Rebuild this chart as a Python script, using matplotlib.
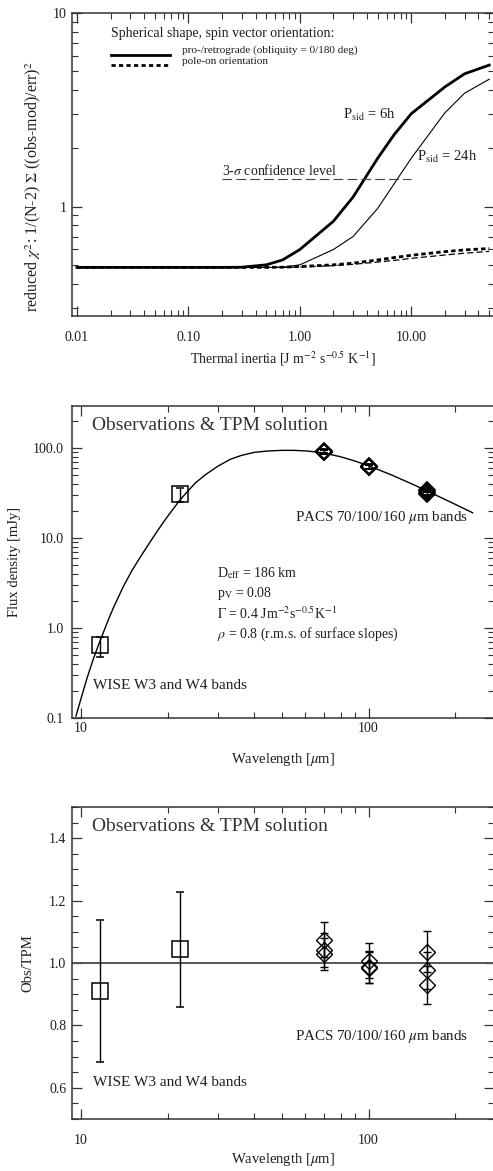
import matplotlib
matplotlib.use("Agg")
import matplotlib.pyplot as plt
from matplotlib.ticker import FixedLocator, FixedFormatter, LogLocator, MultipleLocator, NullFormatter

plt.rcParams['font.family'] = ['Liberation Serif', 'DejaVu Serif']
plt.rcParams['mathtext.fontset'] = 'stix'
plt.rcParams['lines.scale_dashes'] = False

INK = '#1e1e1e'

# ---- reduced chi^2 versus thermal inertia ----
inertia = [0.01, 0.02, 0.03, 0.05, 0.07, 0.1, 0.2, 0.3, 0.5, 0.7,
           1.0, 2.0, 3.0, 5.0, 7.0, 10.0, 20.0, 30.0, 50.0]
chi2_prograde_6h = [0.485, 0.485, 0.485, 0.485, 0.485, 0.485, 0.485, 0.486, 0.50, 0.53,
                    0.60, 0.84, 1.12, 1.78, 2.35, 3.02, 4.15, 4.85, 5.38]
chi2_prograde_24h = [0.485, 0.485, 0.485, 0.485, 0.485, 0.485, 0.485, 0.485, 0.485, 0.486,
                     0.50, 0.60, 0.70, 0.98, 1.31, 1.78, 3.05, 3.85, 4.55]
chi2_poleon_6h = [0.485, 0.485, 0.485, 0.485, 0.485, 0.485, 0.485, 0.485, 0.485, 0.486,
                  0.49, 0.50, 0.51, 0.53, 0.545, 0.56, 0.585, 0.597, 0.607]
chi2_poleon_24h = [0.485, 0.485, 0.485, 0.485, 0.485, 0.485, 0.485, 0.485, 0.485, 0.485,
                   0.487, 0.495, 0.503, 0.517, 0.527, 0.54, 0.562, 0.574, 0.587]
confidence_3sigma = 1.38
confidence_range = [0.2, 10.0]

# ---- TPM spectral energy distribution ----
sed_wavelength = [9.6, 10.0, 10.5, 11.0, 11.5, 12.0, 12.5, 13.0, 14.0, 15.0, 16.0, 17.0,
                  18.0, 19.0, 20.0, 21.0, 22.0, 23.0, 25.0, 27.0, 30.0, 33.0, 36.0, 40.0,
                  45.0, 50.0, 55.0, 60.0, 65.0, 70.0, 80.0, 90.0, 100.0, 120.0, 140.0,
                  160.0, 200.0, 230.0]
sed_flux = [0.105, 0.165, 0.28, 0.44, 0.65, 0.92, 1.28, 1.72, 2.85, 4.3, 6.0, 8.1,
            10.7, 13.8, 17.4, 21.4, 26.0, 30.7, 41.0, 50.2, 63.1, 74.8, 82.5, 89.5,
            92.8, 94.2, 94.2, 93.0, 90.8, 88.0, 79.9, 71.4, 63.5, 50.3, 40.5,
            33.3, 23.7, 19.1]

# WISE W3/W4 observations
wise_wavelength = [11.6, 22.1]
wise_flux = [0.64, 30.5]
wise_flux_err = [0.16, 5.4]
wise_ratio = [0.91, 1.044]
wise_ratio_err = [0.227, 0.185]

# PACS 70/100/160 observations (three epochs per band)
pacs_wavelength = [70.0, 70.0, 70.0, 100.0, 100.0, 100.0, 160.0, 160.0, 160.0]
pacs_flux = [93.5, 90.7, 89.4, 62.4, 61.3, 61.1, 34.2, 32.2, 30.7]
pacs_flux_err = [4.9, 4.8, 4.5, 3.5, 3.2, 3.1, 2.1, 2.0, 2.0]
pacs_ratio = [1.075, 1.042, 1.028, 1.007, 0.988, 0.985, 1.036, 0.976, 0.929]
pacs_ratio_err = [0.056, 0.055, 0.052, 0.056, 0.052, 0.050, 0.065, 0.060, 0.062]

W, H = 493, 1171
fig = plt.figure(figsize=(W / 100, H / 100), dpi=100)


def axes_px(left, top, bottom, right=493.5):
    return fig.add_axes([left / W, 1 - bottom / H, (right - left) / W, (bottom - top) / H])


def style_axes(ax):
    for sp in ax.spines.values():
        sp.set_color('#333333')
        sp.set_linewidth(1.1)
    ax.tick_params(which='both', direction='in', top=True, right=True,
                   colors='#333333', labelcolor=INK, labelsize=10)
    ax.tick_params(which='major', length=7, width=0.9)
    ax.tick_params(which='minor', length=4, width=0.8)


# ---------------- panel 1 ----------------
ax1 = axes_px(72, 13, 316)
style_axes(ax1)
ax1.set_xscale('log')
ax1.set_yscale('log')
ax1.plot(inertia, chi2_prograde_6h, color='black', lw=2.0)
ax1.plot(inertia, chi2_prograde_24h, color='black', lw=0.8)
ax1.plot(inertia, chi2_poleon_6h, color='black', lw=2.0, ls=(0, (3.2, 2.2)))
ax1.plot(inertia, chi2_poleon_24h, color='black', lw=0.9, ls=(0, (4.5, 2.2)))
ax1.plot(confidence_range, [confidence_3sigma, confidence_3sigma], color='#444444',
         lw=0.8, ls=(0, (7, 3)))
ax1.set_xlim(0.00902, 54.6)
ax1.set_ylim(0.272, 10.0)
ax1.xaxis.set_major_locator(FixedLocator([0.01, 0.1, 1.0, 10.0]))
ax1.xaxis.set_major_formatter(FixedFormatter(['0.01', '0.10', '1.00', '10.00']))
ax1.xaxis.set_minor_locator(LogLocator(base=10, subs=range(2, 10)))
ax1.xaxis.set_minor_formatter(NullFormatter())
ax1.yaxis.set_major_locator(FixedLocator([1.0, 10.0]))
ax1.yaxis.set_major_formatter(FixedFormatter(['1', '10']))
ax1.yaxis.set_minor_locator(LogLocator(base=10, subs=range(2, 10)))
ax1.yaxis.set_minor_formatter(NullFormatter())
ax1.tick_params(axis='x', pad=11)
ax1.tick_params(axis='y', pad=4)
ax1.set_xlabel(r'Thermal inertia [J m$^{-2}$ s$^{-0.5}$ K$^{-1}$]', fontsize=10, color=INK)
ax1.xaxis.label.set_va('center')
ax1.xaxis.set_label_coords(0.5, (316 - 359) / 303)
ax1.set_ylabel(r'reduced $\chi^2$: 1/(N-2) $\Sigma$ ((obs-mod)/err)$^2$', fontsize=11.5, color=INK)
ax1.yaxis.label.set_va('center')
ax1.yaxis.set_label_coords((33 - 72) / 421, (316 - 187) / 303)

t1 = ax1.transAxes
ax1.text(0.0919, 0.933, 'Spherical shape, spin vector orientation:', transform=t1,
         fontsize=10, va='center', color=INK)
ax1.plot([0.0919, 0.2328], [(316 - 54.5) / 303] * 2, transform=t1, color='black', lw=2.0)
ax1.plot([0.0919, 0.2328], [(316 - 64.5) / 303] * 2, transform=t1, color='black', lw=2.0,
         ls=(0, (3.0, 2.4)))
ax1.text(0.2606, (316 - 50.5) / 303, 'pro-/retrograde (obliquity = 0/180 deg)', transform=t1,
         fontsize=8.1, va='center', color=INK)
ax1.text(0.2606, (316 - 62) / 303, 'pole-on orientation', transform=t1,
         fontsize=8.1, va='center', color=INK)
ax1.text(0.3563, 0.4818, r'3-$\sigma$ confidence level', transform=t1,
         fontsize=10, va='center', color=INK)
ax1.text(0.6437, 0.663, r'P$_{\mathrm{sid}}$ = 6h', transform=t1,
         fontsize=10.5, va='center', color=INK)
ax1.text(0.8195, 0.5248, r'P$_{\mathrm{sid}}$ = 24h', transform=t1,
         fontsize=10.5, va='center', color=INK)

# ---------------- panel 2 ----------------
ax2 = axes_px(72, 406, 718)
style_axes(ax2)
ax2.set_xscale('log')
ax2.set_yscale('log')
ax2.plot(sed_wavelength, sed_flux, color='black', lw=1.0)
ax2.errorbar(wise_wavelength, wise_flux, yerr=wise_flux_err, fmt='s', ms=11,
             mfc='none', mec='black', mew=1.1, ecolor='black', elinewidth=1.0,
             capsize=3, capthick=1.0)
ax2.errorbar(pacs_wavelength, pacs_flux, yerr=pacs_flux_err, fmt='D', ms=8,
             mfc='none', mec='black', mew=1.3, ecolor='black', elinewidth=1.0,
             capsize=3, capthick=1.0)
ax2.set_xlim(9.3, 272)
ax2.set_ylim(0.1, 293)
ax2.xaxis.set_major_locator(FixedLocator([10, 100]))
ax2.xaxis.set_major_formatter(FixedFormatter(['10', '100']))
ax2.xaxis.set_minor_locator(LogLocator(base=10, subs=range(2, 10)))
ax2.xaxis.set_minor_formatter(NullFormatter())
ax2.yaxis.set_major_locator(FixedLocator([0.1, 1.0, 10.0, 100.0]))
ax2.yaxis.set_major_formatter(FixedFormatter(['0.1', '1.0', '10.0', '100.0']))
ax2.yaxis.set_minor_locator(LogLocator(base=10, subs=range(2, 10)))
ax2.yaxis.set_minor_formatter(NullFormatter())
ax2.tick_params(axis='x', pad=3)
ax2.tick_params(axis='y', pad=6)
ax2.set_xlabel(r'Wavelength [$\mu$m]', fontsize=10.5, color=INK)
ax2.xaxis.label.set_va('center')
ax2.xaxis.set_label_coords(0.5, (718 - 759.3) / 312)
ax2.set_ylabel('Flux density [mJy]', fontsize=10.5, color=INK)
ax2.yaxis.label.set_va('center')
ax2.yaxis.set_label_coords((15 - 72) / 421, 0.5)

t2 = ax2.transAxes
ax2.text(0.0475, 0.939, 'Observations & TPM solution', transform=t2, fontsize=14,
         va='center', color='#333333')
ax2.text(0.5297, 0.644, r'PACS 70/100/160 $\mu$m bands', transform=t2, fontsize=10.8,
         va='center', color=INK)
ax2.text(0.0499, 0.1026, 'WISE W3 and W4 bands', transform=t2, fontsize=11,
         va='center', color=INK)
params = [r'D$_{\mathrm{eff}}$ = 186 km',
          r'p$_{\mathrm{V}}$ = 0.08',
          r'$\Gamma$ = 0.4 Jm$^{-2}$s$^{-0.5}$K$^{-1}$',
          r'$\rho$ = 0.8 (r.m.s. of surface slopes)']
for txt, ypx in zip(params, [573, 593.5, 614, 634]):
    ax2.text(0.344, (718 - ypx) / 312, txt, transform=t2, fontsize=10, va='center', color=INK)

# ---------------- panel 3 ----------------
ax3 = axes_px(72, 807, 1119)
style_axes(ax3)
ax3.set_xscale('log')
ax3.axhline(1.0, color='#555555', lw=1.4)
ax3.errorbar(wise_wavelength, wise_ratio, yerr=wise_ratio_err, fmt='s', ms=11,
             mfc='none', mec='black', mew=1.1, ecolor='black', elinewidth=1.0,
             capsize=3, capthick=1.0)
ax3.errorbar(pacs_wavelength, pacs_ratio, yerr=pacs_ratio_err, fmt='D', ms=8.5,
             mfc='none', mec='black', mew=1.0, ecolor='black', elinewidth=1.0,
             capsize=3, capthick=1.0)
ax3.set_xlim(9.3, 272)
ax3.set_ylim(0.5, 1.5)
ax3.xaxis.set_major_locator(FixedLocator([10, 100]))
ax3.xaxis.set_major_formatter(FixedFormatter(['10', '100']))
ax3.xaxis.set_minor_locator(LogLocator(base=10, subs=range(2, 10)))
ax3.xaxis.set_minor_formatter(NullFormatter())
ax3.yaxis.set_major_locator(FixedLocator([0.6, 0.8, 1.0, 1.2, 1.4]))
ax3.yaxis.set_major_formatter(FixedFormatter(['0.6', '0.8', '1.0', '1.2', '1.4']))
ax3.yaxis.set_minor_locator(MultipleLocator(0.05))
ax3.tick_params(axis='x', pad=11)
ax3.tick_params(axis='y', pad=4)
ax3.set_xlabel(r'Wavelength [$\mu$m]', fontsize=10.5, color=INK)
ax3.xaxis.label.set_va('center')
ax3.xaxis.set_label_coords(0.5, (1119 - 1159.3) / 312)
ax3.set_ylabel('Obs/TPM', fontsize=10.5, color=INK)
ax3.yaxis.label.set_va('center')
ax3.yaxis.set_label_coords((28 - 72) / 421, 0.5)

t3 = ax3.transAxes
ax3.text(0.0475, 0.939, 'Observations & TPM solution', transform=t3, fontsize=14,
         va='center', color='#333333')
ax3.text(0.5297, 0.2638, r'PACS 70/100/160 $\mu$m bands', transform=t3, fontsize=10.8,
         va='center', color=INK)
ax3.text(0.0499, 0.1154, 'WISE W3 and W4 bands', transform=t3, fontsize=11,
         va='center', color=INK)

fig.savefig('out.png', dpi=100)
